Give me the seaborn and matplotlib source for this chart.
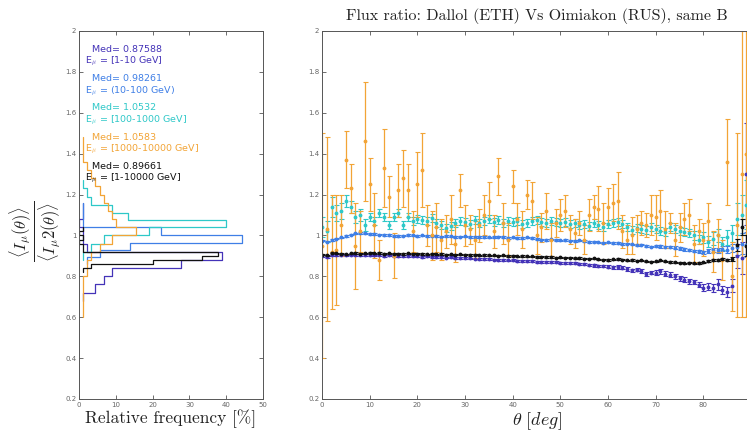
import numpy as np
import pandas as pd
import matplotlib
matplotlib.use("Agg")
import matplotlib.pyplot as plt
import seaborn as sns

# ---- data ----
theta = list(range(0, 90))

ratio_1_10 = [0.900, 0.896, 0.905, 0.903, 0.902, 0.904, 0.906, 0.905, 0.903, 0.904,
              0.905, 0.902, 0.903, 0.900, 0.902, 0.899, 0.900, 0.898, 0.899, 0.897,
              0.898, 0.896, 0.897, 0.894, 0.895, 0.893, 0.892, 0.893, 0.890, 0.891,
              0.889, 0.888, 0.887, 0.886, 0.884, 0.885, 0.882, 0.881, 0.880, 0.878,
              0.879, 0.877, 0.876, 0.874, 0.875, 0.872, 0.871, 0.872, 0.869, 0.868,
              0.867, 0.866, 0.864, 0.863, 0.860, 0.858, 0.857, 0.853, 0.852, 0.849,
              0.848, 0.844, 0.846, 0.842, 0.836, 0.830, 0.832, 0.826, 0.812, 0.818,
              0.818, 0.824, 0.812, 0.808, 0.800, 0.790, 0.784, 0.776, 0.772, 0.758,
              0.745, 0.750, 0.742, 0.760, 0.735, 0.722, 0.755, 0.900, 0.890, 1.300]
err_1_10 = [0.004] * 40 + [0.005] * 20 + [0.008] * 10 + [0.012] * 10 + \
           [0.015, 0.018, 0.02, 0.025, 0.02, 0.025, 0.03, 0.06, 0.08, 0.25]

ratio_10_100 = [0.975, 0.970, 0.978, 0.985, 0.990, 0.998, 1.004, 1.010, 1.012, 1.010,
                1.008, 1.006, 1.004, 1.003, 1.002, 0.998, 0.996, 0.999, 1.001, 1.000,
                0.998, 1.000, 0.997, 0.999, 0.996, 0.994, 0.997, 0.995, 0.993, 0.994,
                0.995, 0.992, 0.993, 0.991, 0.993, 0.990, 0.992, 0.994, 0.991, 0.989,
                0.990, 0.988, 0.989, 0.990, 0.986, 0.983, 0.980, 0.979, 0.981, 0.978,
                0.976, 0.977, 0.975, 0.974, 0.976, 0.973, 0.968, 0.970, 0.966, 0.965,
                0.966, 0.963, 0.962, 0.958, 0.960, 0.956, 0.952, 0.955, 0.949, 0.945,
                0.948, 0.946, 0.943, 0.944, 0.940, 0.937, 0.932, 0.928, 0.925, 0.922,
                0.918, 0.925, 0.930, 0.928, 0.935, 0.931, 0.940, 0.945, 0.960, 0.955]
err_10_100 = [0.004] * 70 + [0.006] * 10 + [0.008, 0.01, 0.01, 0.012, 0.012, 0.015, 0.02, 0.04, 0.05, 0.06]

ratio_100_1000 = [1.040, 1.020, 1.140, 1.110, 1.120, 1.170, 1.140, 1.090, 1.100, 1.050,
                  1.090, 1.070, 1.110, 1.090, 1.050, 1.090, 1.110, 1.050, 1.090, 1.070,
                  1.080, 1.075, 1.070, 1.085, 1.060, 1.050, 1.035, 1.045, 1.060, 1.070,
                  1.065, 1.055, 1.075, 1.060, 1.070, 1.080, 1.065, 1.075, 1.060, 1.070,
                  1.065, 1.070, 1.055, 1.060, 1.070, 1.075, 1.065, 1.060, 1.070, 1.065,
                  1.060, 1.065, 1.055, 1.060, 1.050, 1.055, 1.045, 1.060, 1.050, 1.040,
                  1.055, 1.060, 1.065, 1.055, 1.040, 1.025, 1.035, 1.030, 1.025, 1.040,
                  1.030, 1.020, 1.015, 1.040, 1.030, 1.020, 1.015, 1.010, 1.000, 0.980,
                  0.990, 0.970, 0.985, 1.000, 0.960, 0.990, 1.010, 1.080, 1.100, 1.150]
err_100_1000 = [0.05, 0.05, 0.05, 0.04, 0.04, 0.03, 0.03, 0.03, 0.03, 0.03] + [0.02] * 70 + \
               [0.025, 0.025, 0.03, 0.03, 0.03, 0.035, 0.04, 0.08, 0.1, 0.12]

ratio_1000_10000 = [0.95, 1.03, 0.92, 0.93, 1.05, 1.37, 1.23, 0.95, 1.02, 1.46,
                    1.25, 1.05, 0.88, 1.33, 1.19, 0.90, 1.22, 1.28, 1.22, 1.02,
                    1.25, 1.32, 1.05, 1.00, 1.04, 0.98, 1.02, 1.08, 0.96, 1.22,
                    1.05, 1.03, 0.98, 1.05, 1.10, 1.17, 1.02, 1.29, 1.06, 0.98,
                    1.24, 1.08, 1.03, 1.20, 1.17, 1.00, 1.04, 1.12, 0.98, 1.06,
                    1.10, 1.12, 1.03, 1.01, 1.06, 0.98, 1.10, 1.14, 1.13, 1.06,
                    1.14, 1.16, 1.17, 1.02, 0.98, 1.00, 1.03, 1.06, 1.05, 1.10,
                    1.09, 1.12, 1.03, 1.06, 0.98, 1.04, 1.08, 1.10, 0.96, 1.02,
                    0.98, 1.07, 0.92, 1.00, 0.88, 1.36, 0.80, 1.05, 1.30, 1.40]
err_1000_10000 = [0.55, 0.45, 0.28, 0.27, 0.15, 0.14, 0.12, 0.21, 0.10, 0.29,
                  0.13, 0.16, 0.10, 0.19, 0.10, 0.11, 0.13, 0.14, 0.13, 0.10,
                  0.16, 0.18, 0.10, 0.12, 0.12, 0.10, 0.08, 0.12, 0.09, 0.08,
                  0.10, 0.07, 0.09, 0.08, 0.10, 0.09, 0.08, 0.09, 0.10, 0.08,
                  0.08, 0.08, 0.09, 0.07, 0.09, 0.09, 0.07, 0.09, 0.08, 0.07,
                  0.08, 0.08, 0.07, 0.07, 0.06, 0.07, 0.08, 0.06, 0.11, 0.10,
                  0.09, 0.09, 0.14, 0.08, 0.07, 0.09, 0.07, 0.06, 0.06, 0.10,
                  0.11, 0.10, 0.09, 0.05, 0.08, 0.07, 0.08, 0.08, 0.09, 0.06,
                  0.08, 0.09, 0.10, 0.08, 0.10, 0.21, 0.17, 0.45, 0.70, 0.80]

ratio_all = [0.905, 0.902, 0.915, 0.912, 0.910, 0.908, 0.912, 0.914, 0.911, 0.913,
             0.916, 0.913, 0.914, 0.911, 0.912, 0.910, 0.911, 0.909, 0.912, 0.910,
             0.911, 0.909, 0.908, 0.910, 0.907, 0.909, 0.906, 0.908, 0.905, 0.907,
             0.906, 0.904, 0.905, 0.903, 0.904, 0.902, 0.903, 0.900, 0.902, 0.899,
             0.900, 0.898, 0.899, 0.897, 0.898, 0.895, 0.896, 0.894, 0.895, 0.892,
             0.893, 0.891, 0.892, 0.889, 0.890, 0.887, 0.886, 0.888, 0.884, 0.882,
             0.880, 0.883, 0.885, 0.881, 0.878, 0.880, 0.876, 0.878, 0.874, 0.872,
             0.873, 0.878, 0.874, 0.870, 0.868, 0.866, 0.864, 0.866, 0.863, 0.865,
             0.868, 0.876, 0.882, 0.880, 0.884, 0.881, 0.885, 0.955, 1.040, 0.950]
err_all = [0.003] * 80 + [0.004, 0.004, 0.005, 0.005, 0.005, 0.006, 0.008, 0.03, 0.04, 0.05]

# histograms of the ratio (bin edges, relative frequency in %)
edges_1_10 = [0.68, 0.72, 0.76, 0.80, 0.84, 0.88, 0.92, 0.96, 1.00, 1.04, 1.08, 1.12, 1.16]
freq_1_10 = [1.1, 4.4, 6.7, 8.9, 27.8, 38.9, 2.2, 1.1, 1.1, 0.0, 1.1, 1.1]

edges_10_100 = [0.86, 0.895, 0.928, 0.961, 1.002, 1.043, 1.08, 1.12, 1.16]
freq_10_100 = [2.2, 5.6, 13.9, 44.4, 22.2, 1.1, 1.1, 1.1]

edges_100_1000 = [0.88, 0.92, 0.96, 1.00, 1.043, 1.075, 1.11, 1.15, 1.19, 1.23, 1.27]
freq_100_1000 = [1.1, 3.3, 6.7, 18.9, 40.0, 13.3, 8.9, 3.3, 2.2, 1.1]

edges_1000_10000 = [0.60, 0.64, 0.68, 0.72, 0.76, 0.80, 0.84, 0.88, 0.92, 0.96, 1.00, 1.04,
                    1.08, 1.12, 1.16, 1.20, 1.24, 1.28, 1.32, 1.36, 1.40, 1.44, 1.48]
freq_1000_10000 = [1.1, 1.1, 1.1, 1.1, 1.1, 2.2, 2.2, 3.3, 5.6, 8.9, 15.6, 10.0,
                   8.9, 7.8, 6.7, 5.6, 4.4, 3.3, 2.2, 1.1, 1.1, 1.1]

edges_all = [0.82, 0.84, 0.86, 0.88, 0.90, 0.92, 0.94, 0.96, 0.98, 1.00, 1.02, 1.04]
freq_all = [1.1, 3.3, 20.0, 33.3, 37.8, 1.1, 1.1, 0.0, 1.1, 0.0, 1.1]

medians = ["0.87588", "0.98261", "1.0532", "1.0583", "0.89661"]
energy_ranges = ["[1-10 GeV]", "(10-100 GeV)", "[100-1000 GeV]", "[1000-10000 GeV]", "[1-10000 GeV]"]

colors = ["#4433b8", "#3f7fe6", "#2ec8c8", "#f2a436", "#111111"]

series = [
    (ratio_1_10, err_1_10, edges_1_10, freq_1_10),
    (ratio_10_100, err_10_100, edges_10_100, freq_10_100),
    (ratio_100_1000, err_100_1000, edges_100_1000, freq_100_1000),
    (ratio_1000_10000, err_1000_10000, edges_1000_10000, freq_1000_10000),
    (ratio_all, err_all, edges_all, freq_all),
]

# ---- style ----
sns.set_theme(style="white")
plt.rcParams["mathtext.fontset"] = "cm"
plt.rcParams["axes.unicode_minus"] = False
serif = ["cmr10", "DejaVu Serif"]

fig = plt.figure(figsize=(7.47, 4.36), dpi=100)
ax1 = fig.add_axes([0.1058, 0.0849, 0.2463, 0.844])
ax2 = fig.add_axes([0.4311, 0.0849, 0.5743, 0.844])

for ax in (ax1, ax2):
    ax.set_facecolor("white")
    for s in ax.spines.values():
        s.set_color("#555555")
        s.set_linewidth(0.7)
    ax.tick_params(direction="in", length=3, width=0.6, labelsize=5,
                   labelcolor="#666666", color="#555555",
                   top=True, right=True, bottom=True, left=True, pad=2)
    ax.set_ylim(0.2, 2.0)
    ax.set_yticks([0.2, 0.4, 0.6, 0.8, 1.0, 1.2, 1.4, 1.6, 1.8, 2.0])
    ax.set_yticklabels(["0.2", "0.4", "0.6", "0.8", "1", "1.2", "1.4", "1.6", "1.8", "2"])

# ---- left: histograms ----
for (vals, errs, edges, freq), c in zip(series, colors):
    centers = [(a + b) / 2 for a, b in zip(edges[:-1], edges[1:])]
    hdf = pd.DataFrame({"ratio": centers, "freq": freq})
    sns.histplot(data=hdf, y="ratio", weights="freq", bins=edges, element="step",
                 fill=False, color=c, linewidth=0.9, ax=ax1)

ax1.set_xlim(0, 50)
ax1.set_xticks([0, 10, 20, 30, 40, 50])
ax1.set_xlabel("Relative frequency [%]", family=serif, fontsize=12.5, labelpad=1, color="#222222")
ax1.set_ylabel("")

y0 = 1.91
for i, (m, e, c) in enumerate(zip(medians, energy_ranges, colors)):
    yy = y0 - i * 0.143
    ax1.text(3.5, yy, f"Med= {m}", color=c, fontsize=6.8, va="center", ha="left")
    ax1.text(1.5, yy - 0.06, r"E$_{\mu}$ = " + e, color=c, fontsize=6.8, va="center", ha="left")

fig.text(0.047, 0.47, r"$\frac{\langle I_\mu(\theta)\rangle}{\langle I_\mu 2(\theta)\rangle}$",
         rotation=90, fontsize=17, ha="center", va="center", color="#222222")

# ---- right: ratio vs theta ----
for (vals, errs, edges, freq), c in zip(series, colors):
    ax2.errorbar(theta, vals, yerr=errs, fmt=".", color=c, ecolor=c, markersize=3.5,
                 elinewidth=0.9, capsize=1.8, capthick=0.8)

ax2.set_xlim(0, 90)
ax2.set_xticks([0, 10, 20, 30, 40, 50, 60, 70, 80, 90])
ax2.set_xlabel(r"$\theta\ [deg]$", fontsize=13, labelpad=2, color="#222222")
ax2.set_title("Flux ratio: Dallol (ETH) Vs Oimiakon (RUS), same B", family=serif,
              fontsize=11.5, pad=8, color="#222222")

fig.savefig("out.png", dpi=100)
